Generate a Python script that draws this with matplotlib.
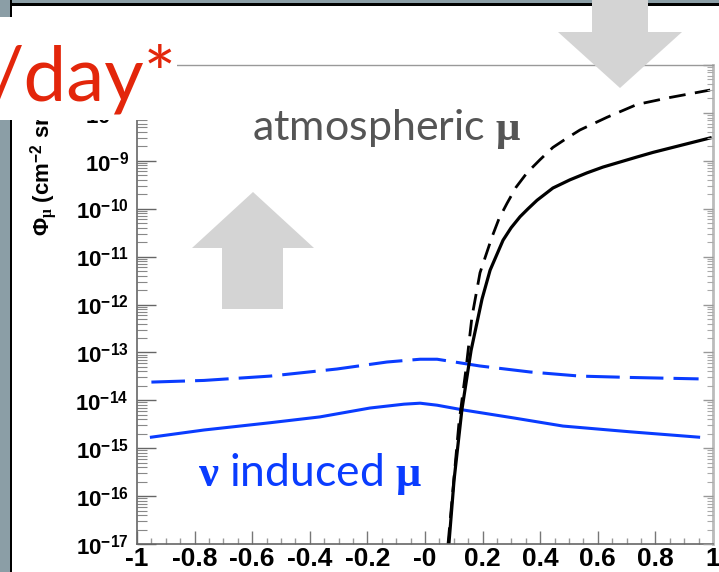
import numpy as np
import matplotlib
matplotlib.use('Agg')
import matplotlib.pyplot as plt
from matplotlib.patches import Rectangle, Polygon
from matplotlib.ticker import LogLocator, MultipleLocator, NullFormatter

plt.rcParams['mathtext.fontset'] = 'custom'
plt.rcParams['mathtext.rm'] = 'Liberation Sans:bold'
plt.rcParams['mathtext.it'] = 'Liberation Serif:bold'
plt.rcParams['mathtext.bf'] = 'Liberation Sans:bold'

# atmospheric muons (black), cos(zenith) on x
atm_x = [0.083, 0.101, 0.128, 0.160, 0.198, 0.226, 0.271, 0.299, 0.330, 0.358, 0.389, 0.444,
         0.503, 0.5625, 0.618, 0.736, 0.792, 0.99]
atm_solid = [1e-17, 2.2e-16, 6.3e-15, 1.1e-13, 1.3e-12, 5.2e-12, 2.2e-11, 4.0e-11, 6.8e-11,
             1.0e-10, 1.5e-10, 2.7e-10, 4.0e-10, 5.6e-10, 7.4e-10, 1.2e-9, 1.5e-9, 3.0e-9]
atmd_x = [0.080, 0.118, 0.142, 0.163, 0.191, 0.233, 0.257, 0.285, 0.316, 0.354, 0.399, 0.444,
          0.49, 0.538, 0.632, 0.736, 0.851, 0.99]
atm_dashed = [1e-17, 3.4e-15, 4.3e-14, 5.5e-13, 4.6e-12, 2.6e-11, 6.2e-11, 1.3e-10, 2.8e-10,
              5.6e-10, 1.05e-9, 1.9e-9, 2.9e-9, 4.4e-9, 8.1e-9, 1.5e-8, 2.1e-8, 3.0e-8]

# neutrino induced muons (blue)
nu_x = [-0.95, -0.767, -0.538, -0.365, -0.191, -0.073, -0.017, 0.042, 0.132, 0.306, 0.479, 0.712, 0.95]
nu_solid = [1.7e-15, 2.4e-15, 3.4e-15, 4.5e-15, 6.9e-15, 8.3e-15, 8.7e-15, 7.9e-15, 6.3e-15,
            4.3e-15, 2.9e-15, 2.2e-15, 1.7e-15]
nud_x = [-0.95, -0.767, -0.538, -0.306, -0.132, -0.017, 0.042, 0.191, 0.365, 0.538, 0.712, 0.95]
nu_dashed = [2.4e-14, 2.6e-14, 3.2e-14, 4.5e-14, 6.3e-14, 7.2e-14, 7.2e-14, 5.2e-14, 3.9e-14,
             3.2e-14, 3.0e-14, 2.8e-14]

xticks = [-1, -0.8, -0.6, -0.4, -0.2, 0, 0.2, 0.4, 0.6, 0.8, 1]
xlabels = ['-1', '-0.8', '-0.6', '-0.4', '-0.2', '-0', '0.2', '0.4', '0.6', '0.8', '1']
yexp = list(range(-17, -6))

W, H = 719, 572
def px(x, y):
    return (x / W, 1 - y / H)

fig = plt.figure(figsize=(W / 100, H / 100), dpi=100)
ax = fig.add_axes([137 / W, 28 / H, 576 / W, 479 / H])

blue = '#0a3cff'
ax.plot(nu_x, nu_solid, color=blue, lw=2.2)
ax.plot(nud_x, nu_dashed, color=blue, lw=2.2, ls=(0, (11, 3.3)))
ax.plot(atm_x, atm_solid, color='black', lw=2.3)
ax.plot(atmd_x, atm_dashed, color='black', lw=2.0, ls=(0, (6, 3.4)))

ax.set_yscale('log')
ax.set_xlim(-1, 1)
ax.set_ylim(1e-17, 1e-7)
ax.set_xticks(xticks)
ax.set_xticklabels(xlabels, fontfamily='Liberation Sans', fontweight='bold', fontsize=19)
ax.xaxis.set_minor_locator(MultipleLocator(0.05))
ax.set_yticks([10.0 ** e for e in yexp])
ax.set_yticklabels([r'$10^{%d}$' % e for e in yexp], fontsize=16)
ax.yaxis.set_minor_locator(LogLocator(base=10, subs=np.arange(2, 10), numticks=20))
ax.yaxis.set_minor_formatter(NullFormatter())

ax.tick_params(axis='x', which='major', direction='in', length=9.5, width=1, color='#777777', pad=2)
ax.tick_params(axis='x', which='minor', direction='in', length=4.5, width=1, color='#999999')
ax.tick_params(axis='y', which='major', direction='in', length=13.5, width=1, color='#666666', pad=6)
ax.tick_params(axis='y', which='minor', direction='in', length=7, width=0.8, color='#888888')

for s in ['left', 'bottom']:
    ax.spines[s].set_color('#666666')
    ax.spines[s].set_linewidth(1.2)
ax.spines['top'].set_color('#999999')
ax.spines['top'].set_linewidth(1)
ax.spines['right'].set_color('#bbbbbb')
ax.spines['right'].set_linewidth(2)

# inward ticks on the right axis
tw = ax.twinx()
tw.set_yscale('log')
tw.set_ylim(1e-17, 1e-7)
tw.set_yticks([10.0 ** e for e in yexp])
tw.yaxis.set_minor_locator(LogLocator(base=10, subs=np.arange(2, 10), numticks=20))
tw.yaxis.set_minor_formatter(NullFormatter())
tw.set_yticklabels([])
tw.tick_params(axis='y', which='major', direction='in', length=7, width=1, color='#999999')
tw.tick_params(axis='y', which='minor', direction='in', length=4, width=0.8, color='#aaaaaa')
for s in tw.spines.values():
    s.set_visible(False)

# y label (partly hidden by the title box)
fig.text(*px(44, 236), r'$\Phi_{\mu}$ (cm$^{-2}$ sr$^{-1}$ s$^{-1}$)', rotation=90,
         ha='center', va='bottom', fontfamily='Liberation Sans', fontweight='bold', fontsize=16)

# slide frame
gray = '#8b9ea6'
fig.patches.append(Rectangle(px(0, 3.5), 1, 3.5 / H, transform=fig.transFigure, fc=gray, ec='none', zorder=5))
fig.patches.append(Rectangle(px(0, H), 10 / W, 1, transform=fig.transFigure, fc=gray, ec='none', zorder=5))
fig.patches.append(Rectangle(px(10, 6), 1, 2.5 / H, transform=fig.transFigure, fc='black', ec='none', zorder=5))
fig.patches.append(Rectangle(px(10, H), 2.5 / W, 1, transform=fig.transFigure, fc='black', ec='none', zorder=5))

# gray arrows
arrow_c = '#d4d4d4'
up = [px(253, 192), px(314, 248), px(283, 248), px(283, 309), px(222, 309), px(222, 248), px(192, 248)]
down = [px(592, 0), px(648, 0), px(648, 32), px(682, 32), px(620, 88), px(558, 32), px(592, 32)]
for pts in (up, down):
    fig.patches.append(Polygon(pts, closed=True, transform=fig.transFigure, fc=arrow_c, ec='none', zorder=6))

# white box with red title fragment
fig.patches.append(Rectangle(px(0, 120), 177 / W, 103 / H, transform=fig.transFigure, fc='white', ec='none', zorder=7))
fig.text(*px(176, 100), '/day*', ha='right', va='baseline', color='#e3260b',
         fontfamily='Lato', fontsize=55, zorder=8)

fig.text(*px(252, 140), r'atmospheric $\mu$', ha='left', va='baseline', color='#555555',
         fontfamily='Lato', fontsize=31, zorder=8)
fig.text(*px(198, 486), r'$\nu$ induced $\mu$', ha='left', va='baseline', color=blue,
         fontfamily='Lato', fontsize=32, zorder=8)

fig.savefig('out.png', dpi=100)
